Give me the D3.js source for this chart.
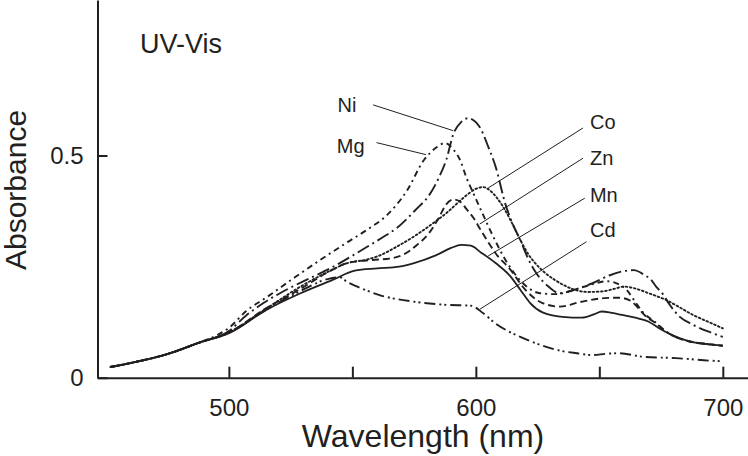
<!DOCTYPE html>
<html>
<head>
<meta charset="utf-8">
<script src="https://cdn.jsdelivr.net/npm/d3@7"></script>
<style>
  html, body { margin: 0; padding: 0; background: #fff; }
  svg { display: block; }
  text { font-family: "Liberation Sans", Arial, Helvetica, sans-serif; fill: #231f20; }
</style>
</head>
<body>
<svg id="chart" width="748" height="456"></svg>
<script>
// ---------- data (wavelength nm, absorbance) ----------
const startPts = [[452,0.024],[461,0.034],[475,0.053],[488,0.079]];

const niData = [[500,0.105],[507,0.14],[514,0.168],[524,0.2],[534,0.227],[544,0.255],[554,0.288],[562,0.315],[568,0.337],[576,0.38],[581,0.41],[585,0.45],[588,0.49],[591,0.55],[594,0.575],[597,0.584],[600,0.575],[602,0.56],[605,0.52],[608,0.475],[612,0.39],[615,0.345],[618,0.31],[621,0.27],[624.5,0.235],[629,0.207],[634,0.19],[641,0.2],[647,0.212],[654,0.23],[660,0.24],[664,0.242],[668,0.232],[671,0.22],[673,0.205],[676,0.186],[678.5,0.164],[682.6,0.137],[688,0.119],[694,0.104],[700,0.092]];

const mgData = [[496,0.098],[500,0.112],[507,0.15],[515,0.18],[527,0.227],[537,0.265],[548,0.305],[556,0.333],[564,0.366],[572,0.42],[579,0.49],[584,0.518],[587.5,0.528],[591,0.513],[594,0.485],[596,0.453],[599,0.415],[602,0.378],[607,0.318],[612,0.265],[619,0.213],[626,0.19],[632,0.188],[640,0.198],[647,0.21],[653,0.217],[658,0.21],[661,0.198],[664,0.175],[668,0.145],[672,0.128],[678,0.1],[687,0.081],[693,0.076],[700,0.072]];

const coData = [[500,0.102],[515,0.155],[529,0.205],[540,0.238],[548,0.258],[556,0.266],[561,0.275],[568,0.295],[575,0.318],[582,0.345],[588,0.37],[595,0.405],[600,0.425],[603,0.429],[606,0.42],[608.5,0.405],[611,0.385],[614,0.355],[618,0.31],[621,0.28],[624,0.258],[628,0.236],[632,0.22],[639,0.2],[645,0.193],[651,0.194],[656,0.2],[660,0.205],[665,0.2],[670,0.19],[677,0.175],[682,0.16],[688,0.141],[694,0.126],[700,0.111]];

const znData = [[500,0.102],[515,0.156],[529,0.2],[540,0.237],[548,0.258],[558,0.265],[565,0.268],[571,0.278],[576,0.298],[581,0.325],[585,0.36],[588,0.39],[591,0.401],[594,0.395],[596,0.381],[599,0.36],[602,0.332],[605,0.305],[608,0.28],[614,0.243],[620,0.198],[627,0.168],[634,0.16],[642,0.17],[652,0.179],[658,0.18],[663,0.172],[666,0.155],[669,0.137],[672,0.126],[678,0.1],[687,0.081],[693,0.076],[700,0.072]];

const mnData = [[500,0.1],[515,0.152],[529,0.19],[542,0.22],[551,0.241],[560,0.246],[569,0.25],[575,0.258],[584,0.276],[590,0.292],[594,0.299],[598,0.297],[602,0.282],[608,0.258],[614,0.228],[618,0.198],[622,0.168],[627,0.147],[635,0.137],[643,0.135],[648,0.143],[651,0.149],[655,0.146],[661,0.139],[666,0.133],[670,0.126],[674,0.112],[678,0.1],[683,0.088],[687,0.081],[693,0.076],[700,0.072]];

const cdData = [[500,0.101],[515,0.153],[529,0.195],[540,0.222],[545,0.226],[548,0.215],[552,0.205],[561,0.186],[575,0.171],[588,0.164],[598,0.162],[603,0.145],[608,0.122],[613,0.105],[618,0.092],[626,0.074],[634,0.061],[641,0.055],[647,0.051],[653,0.054],[658,0.055],[668,0.047],[681,0.044],[696,0.038],[700,0.037]];

const seriesNames = ["Ni","Mg","Co","Zn","Mn","Cd"];
const seriesValues = [niData, mgData, coData, znData, mnData, cdData];

// label anchor (wavelength, absorbance) and leader line from / to
const labelPos = [[544,0.598],[543.7,0.506],[646.2,0.56],[646.2,0.479],[646.2,0.396],[646.2,0.316]];
const leaderFrom = [[558.4,0.614],[559.8,0.529],[643.4,0.562],[643.4,0.494],[644.1,0.404],[644.8,0.306]];
const leaderTo = [[590.8,0.556],[579.8,0.502],[605,0.427],[601.6,0.346],[605,0.274],[601.6,0.154]];

const xTicks = [500,550,600,650,700];
const xTickLabels = {500:"500",600:"600",700:"700"};
const yTicks = [0,0.5];
const yTickLabels = ["0","0.5"];
const title = "UV-Vis";
const titlePos = [464,0.731];
const xTitle = "Wavelength (nm)";
const yTitle = "Absorbance";

// ---------- styles ----------
const dashes = {
  Ni: "13,4,2,4",
  Mg: "6,4,2,4",
  Co: "1.6,2.6",
  Zn: "7,4",
  Mn: null,
  Cd: "11,4,2,3,2,4"
};

// ---------- chart ----------
const svg = d3.select("#chart");
const x = d3.scaleLinear().domain([446.8, 710.2]).range([97.5, 748]);
const y = d3.scaleLinear().domain([0, 0.85]).range([377.7, 0]);

const line = d3.line().x(d => x(d[0])).y(d => y(d[1])).curve(d3.curveMonotoneX);

const g = svg.append("g");
seriesNames.forEach((name, i) => {
  const pts = startPts.filter(p => p[0] < seriesValues[i][0][0]).concat(seriesValues[i]);
  g.append("path")
    .attr("d", line(pts))
    .attr("fill", "none")
    .attr("stroke", "#231f20")
    .attr("stroke-width", name === "Mn" ? 1.8 : 1.9)
    .attr("stroke-dasharray", dashes[name])
    .attr("stroke-linecap", name === "Co" ? "round" : "butt");
});

// leader lines and labels
seriesNames.forEach((name, i) => {
  svg.append("line")
    .attr("x1", x(leaderFrom[i][0])).attr("y1", y(leaderFrom[i][1]))
    .attr("x2", x(leaderTo[i][0])).attr("y2", y(leaderTo[i][1]))
    .attr("stroke", "#231f20").attr("stroke-width", 1);
  svg.append("text")
    .attr("x", x(labelPos[i][0])).attr("y", y(labelPos[i][1]))
    .attr("font-size", 20)
    .text(name);
});

// axes
const xAxis = d3.axisBottom(x).tickValues(xTicks)
  .tickSizeInner(-11).tickSizeOuter(0).tickPadding(21)
  .tickFormat(d => xTickLabels[d] || "");
const gx = svg.append("g").attr("transform", `translate(0,${y(0)})`).call(xAxis);
gx.select(".domain").attr("stroke", "#231f20").attr("stroke-width", 2);
gx.selectAll(".tick line").attr("stroke", "#231f20").attr("stroke-width", 2);
gx.selectAll(".tick text").attr("font-size", 24).attr("font-family", null).attr("fill", "#231f20");

const yAxis = d3.axisLeft(y).tickValues(yTicks)
  .tickSizeInner(-10).tickSizeOuter(0).tickPadding(14)
  .tickFormat((d, i) => yTickLabels[i]);
const gy = svg.append("g").attr("transform", `translate(${x(446.8)},0)`).call(yAxis);
gy.select(".domain").attr("stroke", "#231f20").attr("stroke-width", 2);
gy.selectAll(".tick line").attr("stroke", "#231f20").attr("stroke-width", 2);
gy.selectAll(".tick text").attr("font-size", 24).attr("font-family", null).attr("fill", "#231f20");

// titles
svg.append("text").attr("x", x(titlePos[0])).attr("y", y(titlePos[1]))
  .attr("font-size", 27).text(title);
svg.append("text").attr("x", 423).attr("y", 447)
  .attr("text-anchor", "middle").attr("font-size", 32).text(xTitle);
svg.append("text").attr("transform", "translate(26,190) rotate(-90)")
  .attr("text-anchor", "middle").attr("font-size", 30).text(yTitle);
</script>
</body>
</html>
